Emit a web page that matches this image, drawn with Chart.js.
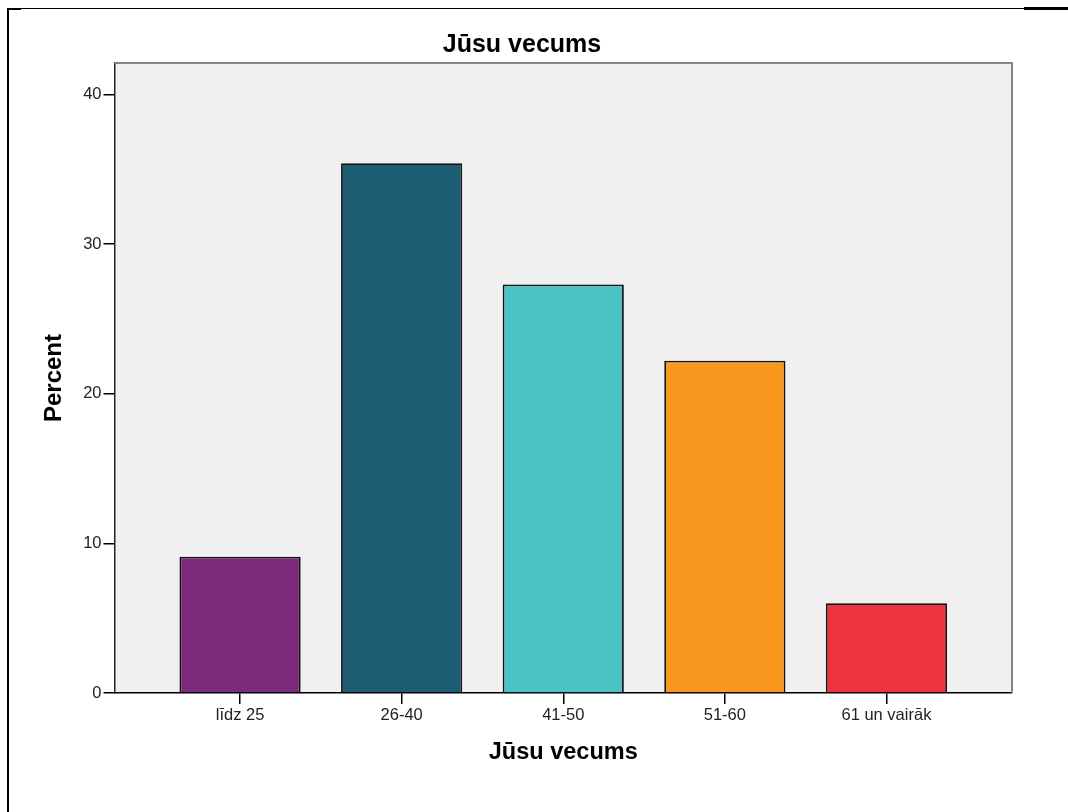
<!DOCTYPE html>
<html>
<head>
<meta charset="utf-8">
<script src="https://cdn.jsdelivr.net/npm/chart.js@4.4.0/dist/chart.umd.min.js"></script>
<style>
  body { margin: 0; background: #fff; }
  #wrap { position: relative; width: 1068px; height: 812px; }
  #frame { position: absolute; left: 7px; top: 8px; width: 1061px; height: 804px;
           border-left: 2px solid #000; border-top: 1px solid #000; }
  #frameTip { position: absolute; left: 1024px; top: 7px; width: 44px; height: 3px; background: #000; }
  #frameCorner { position: absolute; left: 7px; top: 8px; width: 14px; height: 2px; background: #000; }
  canvas { position: absolute; left: 0; top: 0; }
</style>
</head>
<body>
<div id="wrap">
  <div id="frame"></div>
  <div id="frameTip"></div>
  <div id="frameCorner"></div>
  <canvas id="age" width="1068" height="812"></canvas>
</div>
<script>
const categories = ['līdz 25', '26-40', '41-50', '51-60', '61 un vairāk'];
const percents = [9.1, 35.4, 27.3, 22.2, 6.0];
const yTicks = [0, 10, 20, 30, 40];
const barColors = ['#7b297b', '#1d5d74', '#4ac3c7', '#f8981e', '#ef3340'];

const FONT = "'Liberation Sans', Arial, sans-serif";

// grey plot background + grey top/right frame like SPSS
const plotBox = {
  id: 'plotBox',
  beforeDraw(chart) {
    const a = chart.chartArea, c = chart.ctx;
    c.save();
    c.fillStyle = '#f0f0f0';
    c.fillRect(a.left, a.top, a.right - a.left, a.bottom - a.top);
    c.restore();
  },
  afterDatasetsDraw(chart) {
    const a = chart.chartArea, c = chart.ctx;
    c.save();
    c.strokeStyle = '#858585';
    c.lineWidth = 2;
    c.beginPath();
    c.moveTo(a.left, a.top);
    c.lineTo(a.right, a.top);
    c.lineTo(a.right, a.bottom);
    c.stroke();
    c.restore();
  }
};

const data = {
  datasets: [{
    label: 'Percent',
    data: percents.map((v, i) => ({x: i, y: v})),
    backgroundColor: barColors,
    borderColor: '#111',
    borderWidth: 1.8,
    barPercentage: 0.75,
    categoryPercentage: 1
  }]
};

const config = {
  type: 'bar',
  data: data,
  options: {
    responsive: false,
    animation: false,
    layout: { padding: { left: 32, right: 56, top: 0, bottom: 0 } },
    plugins: {
      legend: { display: false },
      tooltip: { enabled: false },
      title: {
        display: true,
        text: 'Jūsu vecums',
        color: '#000',
        font: { family: FONT, size: 25, weight: 'bold', lineHeight: 1.2 },
        padding: { top: 30, bottom: 3 }
      }
    },
    scales: {
      x: {
        type: 'linear',
        offset: false,
        min: -0.777,
        max: 4.777,
        afterBuildTicks: s => { s.ticks = categories.map((c, i) => ({value: i})); },
        afterFit: s => { s.height = 119; },
        ticks: {
          autoSkip: false,
          maxRotation: 0,
          padding: 2,
          color: '#222',
          font: { family: FONT, size: 16.5 },
          callback: v => categories[v]
        },
        grid: { offset: false, drawOnChartArea: false, drawTicks: true, tickLength: 11, color: '#000', lineWidth: 1.5 },
        border: { display: true, color: '#000', width: 1.5 },
        title: {
          display: true,
          text: 'Jūsu vecums',
          color: '#000',
          font: { family: FONT, size: 23.5, weight: 'bold', lineHeight: 1.2 },
          padding: { top: 0, bottom: 45 }
        }
      },
      y: {
        min: 0,
        max: 42.1,
        afterBuildTicks: s => { s.ticks = yTicks.map(v => ({value: v})); },
        afterFit: s => { s.width = 82.5; },
        ticks: {
          padding: 2,
          color: '#222',
          font: { family: FONT, size: 16.5 }
        },
        grid: { drawOnChartArea: false, drawTicks: true, tickLength: 11, color: '#000', lineWidth: 1.5 },
        border: { display: true, color: '#222', width: 1.5 },
        title: {
          display: true,
          text: 'Percent',
          color: '#000',
          font: { family: FONT, size: 24, weight: 'bold', lineHeight: 1.2 },
          padding: { top: 8, bottom: 0 }
        }
      }
    }
  },
  plugins: [plotBox]
};

const ctx = document.getElementById('age');
new Chart(ctx, config);
</script>
</body>
</html>
